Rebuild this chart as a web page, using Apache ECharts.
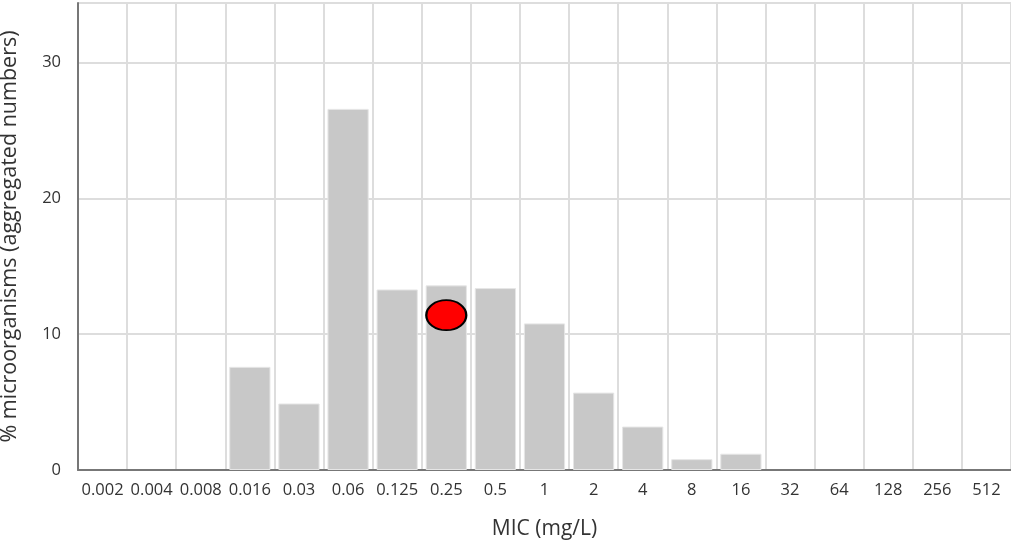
<!DOCTYPE html>
<html><head><meta charset="utf-8">
<script src="https://cdn.jsdelivr.net/npm/echarts@6/dist/echarts.min.js"></script>
<style>html,body{margin:0;padding:0;background:#fff}#c{width:1011px;height:550px}</style>
</head><body><div id="c"></div>
<script>
const categories = ['0.002','0.004','0.008','0.016','0.03','0.06','0.125','0.25','0.5','1','2','4','8','16','32','64','128','256','512'];
const percentValues = [0,0,0,7.6,4.9,26.6,13.3,13.6,13.4,10.8,5.7,3.2,0.8,1.2,0,0,0,0,0];
const markerCategory = '0.25';
const markerValue = 11.4;
const yTicks = [0,10,20,30];

const chart = echarts.init(document.getElementById('c'), null, {renderer:'canvas'});
chart.setOption({
  animation:false,
  textStyle:{fontFamily:'Open Sans'},
  grid:{left:78,right:0,top:3,bottom:80,containLabel:false,outerBoundsMode:'none'},
  xAxis:{
    type:'category', data:categories,
    name:'MIC (mg/L)', nameLocation:'middle', nameGap:49,
    nameTextStyle:{fontSize:21,color:'#333',fontFamily:'Open Sans'},
    axisLine:{lineStyle:{color:'#777',width:2}},
    axisTick:{show:false},
    axisLabel:{fontSize:16.5,color:'#333',margin:12,interval:0},
    splitLine:{show:true,lineStyle:{color:'#ddd',width:2}}
  },
  yAxis:{
    type:'value', min:0, max:34.4, interval:10,
    name:'% microorganisms (aggregated numbers)', nameLocation:'middle', nameGap:57,
    nameTextStyle:{fontSize:21.5,color:'#333',fontFamily:'Open Sans'},
    axisLine:{show:true,lineStyle:{color:'#777',width:2}},
    axisTick:{show:false},
    axisLabel:{fontSize:16.5,color:'#333',margin:17,showMaxLabel:false,
      formatter:v=>yTicks.includes(v)?String(v):''},
    splitLine:{show:true,lineStyle:{color:'#ddd',width:2}}
  },
  series:[
    {type:'bar',
     data:percentValues.map(v => v === 0 ? {value:v, itemStyle:{borderWidth:0, opacity:0}} : v),
     barCategoryGap:'16%',
     itemStyle:{color:'#c8c8c8',borderColor:'#e6e6e6',borderWidth:1}},
    {type:'scatter',data:[[markerCategory,markerValue]],symbol:'circle',symbolSize:[40,30],
     itemStyle:{color:'#ff0000',borderColor:'#000',borderWidth:2,opacity:1},z:5}
  ]
});
</script></body></html>
